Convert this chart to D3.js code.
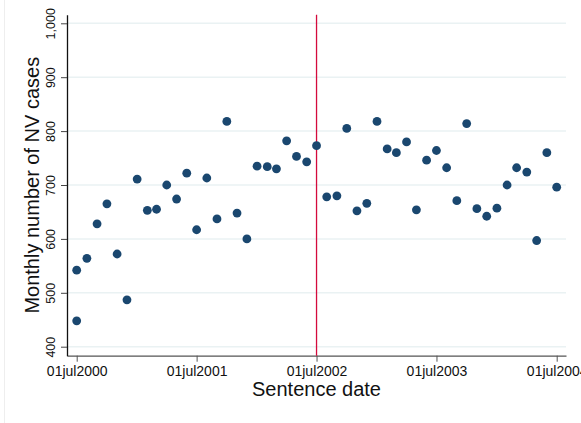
<!DOCTYPE html>
<html>
<head>
<meta charset="utf-8">
<script src="https://cdn.jsdelivr.net/npm/d3@7"></script>
<style>
  html, body { margin: 0; padding: 0; background: #fff; }
  svg { display: block; font-family: "Liberation Sans", Arial, Helvetica, sans-serif; }
</style>
</head>
<body>
<svg id="chart" width="581" height="423"></svg>
<script>
// monthly sentence dates (two observations fall on 01jul2000)
const months = [
  "2000-07-01", "2000-07-01", "2000-08-01", "2000-09-01", "2000-10-01", "2000-11-01", "2000-12-01",
  "2001-01-01", "2001-02-01", "2001-03-01", "2001-04-01", "2001-05-01", "2001-06-01",
  "2001-07-01", "2001-08-01", "2001-09-01", "2001-10-01", "2001-11-01", "2001-12-01",
  "2002-01-01", "2002-02-01", "2002-03-01", "2002-04-01", "2002-05-01", "2002-06-01",
  "2002-07-01", "2002-08-01", "2002-09-01", "2002-10-01", "2002-11-01", "2002-12-01",
  "2003-01-01", "2003-02-01", "2003-03-01", "2003-04-01", "2003-05-01", "2003-06-01",
  "2003-07-01", "2003-08-01", "2003-09-01", "2003-10-01", "2003-11-01", "2003-12-01",
  "2004-01-01", "2004-02-01", "2004-03-01", "2004-04-01", "2004-05-01", "2004-06-01",
  "2004-07-01"
];
const cases = [
  448, 542, 564, 628, 665, 572, 487,
  711, 653, 655, 700, 674, 722,
  617, 713, 637, 818, 648, 600,
  735, 734, 730, 782, 753, 743,
  773, 678, 680, 805, 652, 666,
  818, 767, 760, 780, 654, 746,
  764, 732, 671, 814, 656, 642,
  657, 700, 732, 724, 597, 760,
  696
];
const xTicks = ["2000-07-01", "2001-07-01", "2002-07-01", "2003-07-01", "2004-07-01"];
const yTicks = [400, 500, 600, 700, 800, 900, 1000];
const cutoff = "2002-07-01";

const parse = d3.utcParse("%Y-%m-%d");
const data = months.map((m, i) => ({ date: parse(m), value: cases[i] }));

const plotLeft = 67, plotRight = 566, plotTop = 14.7, plotBottom = 355.7;
const svg = d3.select("#chart");

// faint outer frame on the left
svg.append("line")
  .attr("x1", 4.5).attr("x2", 4.5).attr("y1", 0).attr("y2", 423)
  .attr("stroke", "#eeeeee");

// x scale: ticks at 01jul2000 .. 01jul2004, padded ~1 month each side
const x = d3.scaleUtc()
  .domain([parse(xTicks[0]), parse(xTicks[xTicks.length - 1])])
  .range([76.7, 556.7]);
x.domain([x.invert(plotLeft), x.invert(plotRight)]).range([plotLeft, plotRight]);

const y = d3.scaleLinear()
  .domain([400, 1000])
  .range([346.7, 23.3]);
y.domain([y.invert(plotBottom), y.invert(plotTop)]).range([plotBottom, plotTop]);

// grid lines
svg.append("g")
  .selectAll("line")
  .data(yTicks)
  .join("line")
  .attr("x1", plotLeft).attr("x2", plotRight)
  .attr("y1", d => y(d)).attr("y2", d => y(d))
  .attr("stroke", "#eaf2f3")
  .attr("stroke-width", 1.5);

const fmtDay = d3.utcFormat("%d"), fmtMon = d3.utcFormat("%b"), fmtYear = d3.utcFormat("%Y");

// x axis
const gx = svg.append("g")
  .attr("transform", `translate(0,${plotBottom})`)
  .call(d3.axisBottom(x)
    .tickValues(xTicks.map(parse))
    .tickSize(6)
    .tickSizeOuter(0)
    .tickFormat(d => fmtDay(d) + fmtMon(d).toLowerCase() + fmtYear(d)));
gx.select(".domain").attr("stroke", "#555").attr("stroke-width", 1.3);
gx.selectAll(".tick line").attr("stroke", "#555");
gx.selectAll(".tick text")
  .attr("y", 20.5).attr("dy", 0)
  .attr("font-size", 14)
  .attr("font-family", "Liberation Sans, Arial, sans-serif")
  .attr("fill", "#111");

// y axis
const gy = svg.append("g")
  .attr("transform", `translate(${plotLeft},0)`)
  .call(d3.axisLeft(y)
    .tickValues(yTicks)
    .tickSize(6)
    .tickSizeOuter(0));
gy.select(".domain").attr("stroke", "#111").attr("stroke-width", 1.3);
gy.selectAll(".tick line").attr("stroke", "#444");
gy.selectAll(".tick text")
  .attr("transform", "rotate(-90)")
  .attr("x", 0).attr("y", -12).attr("dy", 0)
  .attr("text-anchor", "middle")
  .attr("font-size", 12.5)
  .attr("font-family", "Liberation Sans, Arial, sans-serif")
  .attr("fill", "#111");

// vertical reference line
svg.append("line")
  .attr("x1", x(parse(cutoff))).attr("x2", x(parse(cutoff)))
  .attr("y1", plotTop).attr("y2", plotBottom)
  .attr("stroke", "#d40a3c")
  .attr("stroke-width", 1.3);

// points
svg.append("g")
  .selectAll("circle")
  .data(data)
  .join("circle")
  .attr("cx", d => x(d.date))
  .attr("cy", d => y(d.value))
  .attr("r", 4.4)
  .attr("fill", "#1a476f");

// axis titles
svg.append("text")
  .attr("x", (plotLeft + plotRight) / 2).attr("y", 396)
  .attr("text-anchor", "middle")
  .attr("font-size", 20)
  .attr("fill", "#111")
  .text("Sentence date");

svg.append("text")
  .attr("transform", `translate(38.5,${(plotTop + plotBottom) / 2}) rotate(-90)`)
  .attr("text-anchor", "middle")
  .attr("font-size", 20)
  .attr("fill", "#111")
  .text("Monthly number of NV cases");
</script>
</body>
</html>
